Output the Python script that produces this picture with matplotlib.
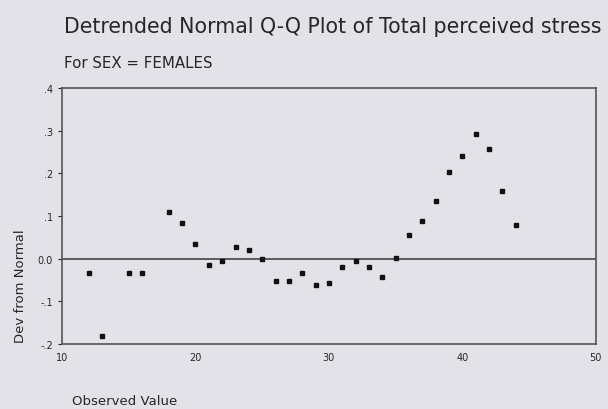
import matplotlib.pyplot as plt
import numpy as np

# Detrended normal Q-Q values for the female group
observed = [12, 13, 15, 16, 18, 19, 20, 21, 22, 23, 24, 25, 26, 27, 28,
            29, 30, 31, 32, 33, 34, 35, 36, 37, 38, 39, 40, 41, 42, 43, 44]
deviation = [-0.033, -0.181, -0.033, -0.033, 0.109, 0.084, 0.035, -0.016,
             -0.005, 0.028, 0.019, 0.000, -0.053, -0.053, -0.033, -0.063,
             -0.058, -0.021, -0.005, -0.021, -0.044, 0.002, 0.056, 0.088,
             0.135, 0.202, 0.240, 0.293, 0.256, 0.158, 0.079]

x_ticks = [10, 20, 30, 40, 50]
y_ticks = [-0.2, -0.1, 0.0, 0.1, 0.2, 0.3, 0.4]
y_ticklabels = ['-.2', '-.1', '0.0', '.1', '.2', '.3', '.4']

bg = '#e3e2e9'
ink = '#262626'

fig = plt.figure(figsize=(6.08, 4.10), dpi=100, facecolor=bg)
ax = fig.add_axes([0.102, 0.159, 0.878, 0.624], facecolor=bg)

ax.axhline(0, color='#444444', lw=1.2, zorder=1)
ax.plot(observed, deviation, 's', color='#111111', ms=3.2, zorder=3)

ax.set_xlim(10, 50)
ax.set_ylim(-0.2, 0.4)
ax.set_xticks(x_ticks)
ax.set_yticks(y_ticks)
ax.set_yticklabels(y_ticklabels)
ax.tick_params(axis='both', labelsize=7, colors=ink, length=3, width=0.8)
ax.tick_params(axis='x', length=0, pad=6)

for s in ax.spines.values():
    s.set_color('#555555')
    s.set_linewidth(1.2)

fig.text(0.105, 0.935, 'Detrended Normal Q-Q Plot of Total perceived stress',
         fontsize=14.8, color=ink, va='center', ha='left')
fig.text(0.105, 0.845, 'For SEX = FEMALES', fontsize=10.8, color=ink,
         va='center', ha='left')
fig.text(0.118, 0.02, 'Observed Value', fontsize=9.5, color=ink,
         va='center', ha='left')
fig.text(0.033, 0.163, 'Dev from Normal', fontsize=9.5, color=ink,
         rotation=90, va='bottom', ha='center')

fig.savefig('out.png', dpi=100, facecolor=bg)
